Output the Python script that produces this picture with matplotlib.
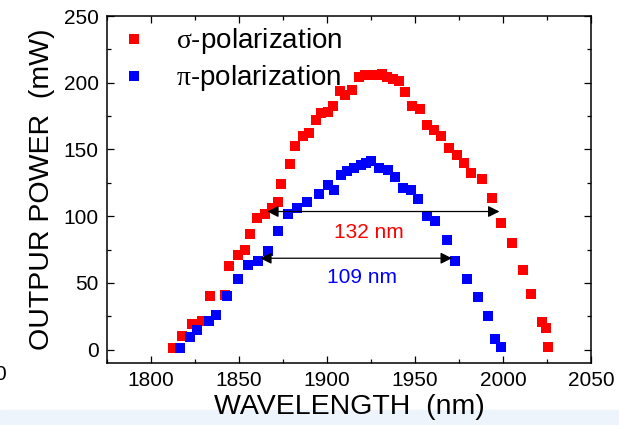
import numpy as np
import matplotlib
matplotlib.use("Agg")
import matplotlib.pyplot as plt
from matplotlib.patches import Rectangle

plt.rcParams['font.family'] = ['Liberation Sans', 'DejaVu Sans']
plt.rcParams['mathtext.fontset'] = 'custom'
plt.rcParams['mathtext.rm'] = 'Liberation Serif'

# sigma polarization (red)
sigma_wl = [1812.4, 1817.8, 1823.5, 1828.8, 1833.3, 1841.8, 1844.4, 1849.3, 1853.3, 1856.4,
            1860.2, 1864.7, 1868.7, 1872.2, 1873.9, 1878.8, 1881.9, 1886.5, 1889.9, 1893.8,
            1896.8, 1900.8, 1903.3, 1907.4, 1910.5, 1914.3, 1918.0, 1921.4, 1925.1, 1928.3,
            1931.1, 1934.3, 1937.4, 1940.9, 1944.6, 1948.1, 1952.9, 1956.9, 1960.9, 1964.9,
            1969.5, 1973.9, 1978.1, 1982.1, 1988.2, 1993.5, 1999.1, 2005.3, 2011.1, 2015.9,
            2022.0, 2024.4, 2025.4]
sigma_pw = [1.3, 10.0, 19.1, 21.8, 40.0, 41.3, 63.0, 70.9, 75.0, 87.0,
            99.0, 102.0, 106.5, 111.0, 123.8, 138.8, 152.3, 160.0, 162.6, 172.2,
            177.0, 177.8, 182.5, 193.8, 190.5, 194.7, 204.0, 205.9, 205.5, 205.5,
            206.3, 204.4, 202.5, 201.3, 192.8, 182.5, 180.0, 168.0, 164.7, 160.0,
            151.2, 145.9, 140.0, 132.0, 127.5, 114.0, 95.0, 80.0, 60.0, 41.8,
            20.8, 16.3, 2.0]

# pi polarization (blue)
pi_wl = [1816.4, 1822.0, 1826.4, 1832.7, 1836.7, 1843.2, 1849.4, 1855.0, 1860.8, 1866.6,
         1872.4, 1878.1, 1882.8, 1888.4, 1895.6, 1900.8, 1903.7, 1907.7, 1911.4, 1915.4,
         1919.1, 1922.0, 1925.2, 1929.7, 1934.6, 1938.9, 1943.2, 1947.7, 1951.9, 1957.1,
         1961.1, 1968.2, 1972.5, 1979.6, 1985.9, 1991.6, 1995.4, 1998.7]
pi_pw = [1.1, 9.4, 15.0, 21.2, 26.3, 40.0, 53.1, 63.8, 66.2, 74.0,
         89.0, 101.3, 106.5, 110.3, 117.0, 123.0, 120.0, 130.9, 133.5, 136.3,
         138.0, 140.0, 141.0, 136.2, 134.7, 129.0, 120.8, 119.3, 113.0, 100.0,
         96.2, 82.0, 66.2, 53.0, 39.2, 25.0, 8.0, 2.0]

# bandwidth arrows: (start, end, level, label x, label y, label)
sigma_band = (1866, 1998, 103.5, 1924, 88, '132 nm')
pi_band = (1862, 1971, 68.5, 1920, 54, '109 nm')

fig = plt.figure(figsize=(6.19, 4.25), dpi=100)
# light strip at the bottom of the picture
fig.patches.append(Rectangle((0, 0), 1, 15/425, transform=fig.transFigure,
                             color='#edf4fc', zorder=-1))
ax = fig.add_axes([107/619, 1-363/425, 484/619, 347/425])

ax.plot(sigma_wl, sigma_pw, 's', color='#ff0000', ms=7.8, mew=0,
        label=r'$\mathrm{\sigma}$-polarization')
ax.plot(pi_wl, pi_pw, 's', color='#0000ff', ms=7.8, mew=0,
        label=r'$\mathrm{\pi}$-polarization')

for (x0, x1, yy, tx, ty, txt), c in [(sigma_band, '#ff0000'), (pi_band, '#0000ff')]:
    ax.annotate('', xy=(x0, yy), xytext=(x1, yy),
                arrowprops=dict(arrowstyle='<|-|>', color='black', lw=0.9,
                                mutation_scale=17, shrinkA=0, shrinkB=0))
    ax.text(tx, ty, txt, color=c, fontsize=15, ha='center', va='center')

ax.set_xlim(1775, 2050)
ax.set_ylim(-10, 250)
ax.set_xticks([1800, 1850, 1900, 1950, 2000, 2050])
ax.set_xticks(np.arange(1775, 2051, 25), minor=True)
ax.set_yticks([0, 50, 100, 150, 200, 250])
ax.set_yticks(np.arange(0, 251, 25), minor=True)
ax.tick_params(which='both', direction='in', top=True, right=True,
               labelsize=15, width=0.9, pad=6)
ax.tick_params(which='major', length=5)
ax.tick_params(which='minor', length=3)
for s in ax.spines.values():
    s.set_linewidth(1.1)

ax.set_xlabel('WAVELENGTH  (nm)', fontsize=20.5, labelpad=3)
ax.set_ylabel('OUTPUR POWER  (mW)', fontsize=20.5, labelpad=6)

ax.legend(loc='upper left', frameon=False, fontsize=20, handlelength=0.8,
          handletextpad=1.1, labelspacing=0.25, borderaxespad=0.17,
          borderpad=0.2, bbox_to_anchor=(0.012, 1.0))

# clipped label from the neighbouring panel
fig.text(0.0, 1-374/425, '0', fontsize=15, ha='center', va='center')

fig.savefig('out.png', dpi=100)
